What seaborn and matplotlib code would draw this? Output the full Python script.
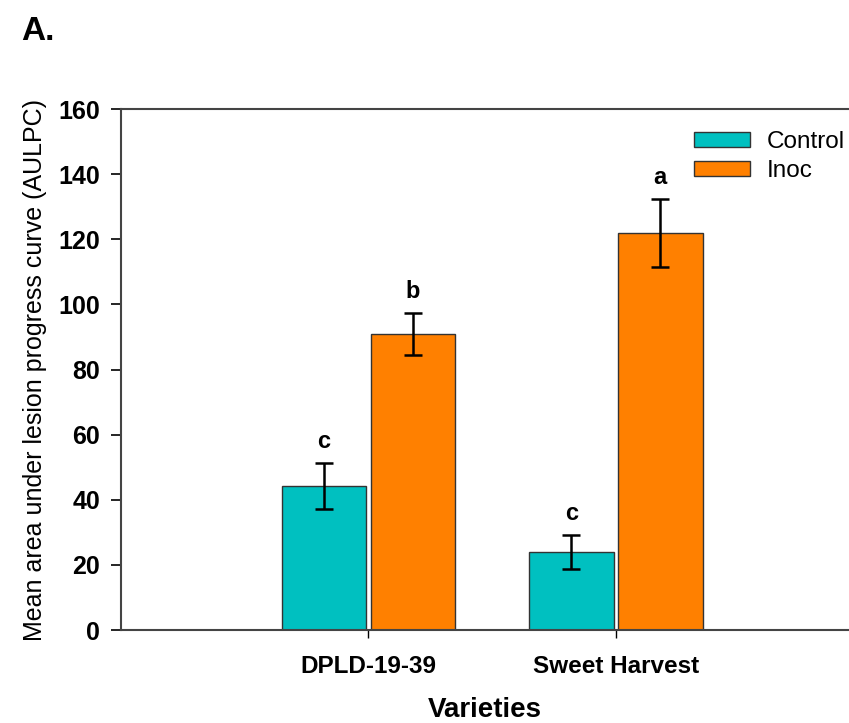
import pandas as pd
import numpy as np
import seaborn as sns
import matplotlib.pyplot as plt

varieties = ["DPLD-19-39", "Sweet Harvest"]
treatments = ["Control", "Inoc"]
control_mean = [44.3, 24.0]
inoc_mean = [91.0, 122.0]
control_err = [7.0, 5.2]
inoc_err = [6.5, 10.5]
control_letters = ["c", "c"]
inoc_letters = ["b", "a"]

df = pd.DataFrame({
    "variety": varieties * 2,
    "treatment": ["Control"] * 2 + ["Inoc"] * 2,
    "mean": control_mean + inoc_mean,
    "err": control_err + inoc_err,
    "letter": control_letters + inoc_letters,
})

sns.set_style("white")
plt.rcParams['font.family'] = ['Liberation Sans', 'DejaVu Sans']
plt.rcParams['text.color'] = 'black'
plt.rcParams['axes.labelcolor'] = 'black'
plt.rcParams['xtick.color'] = 'black'
plt.rcParams['ytick.color'] = 'black'

fig = plt.figure(figsize=(8.49, 7.23), dpi=100)
ax = fig.add_axes([0.1425, 0.1286, 0.8575, 0.7206])

sns.barplot(data=df, x="variety", y="mean", hue="treatment", order=varieties,
            hue_order=treatments, palette=["#00C0C0", "#FF8000"], width=0.72,
            gap=0.05, saturation=1, edgecolor="#333333", linewidth=1.0, ax=ax)

# error bars + letters at bar centres
for cont, t in zip(ax.containers, treatments):
    sub = df[df["treatment"] == t].set_index("variety").loc[varieties]
    for bar, (_, row) in zip(cont, sub.iterrows()):
        xc = bar.get_x() + bar.get_width() / 2
        ax.errorbar(xc, row["mean"], yerr=row["err"], color="black",
                    capsize=6.5, elinewidth=1.8, capthick=1.8)
        ax.text(xc, row["mean"] + row["err"] + 3, row["letter"], ha="center",
                va="bottom", fontsize=17, fontweight="bold")

ax.set_ylim(0, 160)
ax.set_xlim(-1, 1.943)
ax.set_yticks(np.arange(0, 161, 20))
ax.tick_params(axis="y", direction="out", length=7, width=1.2, left=True,
               labelsize=18, pad=8)
ax.tick_params(axis="x", direction="out", length=6, width=1.0, bottom=True,
               labelsize=17.5, pad=12)
for lab in ax.get_xticklabels() + ax.get_yticklabels():
    lab.set_fontweight("bold")

for s in ["left", "top", "bottom"]:
    ax.spines[s].set_color("#444444")
    ax.spines[s].set_linewidth(1.5)
ax.spines["right"].set_visible(False)

ax.set_ylabel("Mean area under lesion progress curve (AULPC)", fontsize=18, labelpad=8)
ax.set_xlabel("Varieties", fontsize=20, fontweight="bold", labelpad=14)

ax.legend(title=None, frameon=False, loc="upper right", bbox_to_anchor=(1.025, 1.0),
          fontsize=17.5, handlelength=2.3, handleheight=0.6, labelspacing=0.3,
          handletextpad=0.7)

fig.text(0.025, 0.945, "A.", fontsize=24, fontweight="bold")

fig.savefig("out.png", dpi=100)
